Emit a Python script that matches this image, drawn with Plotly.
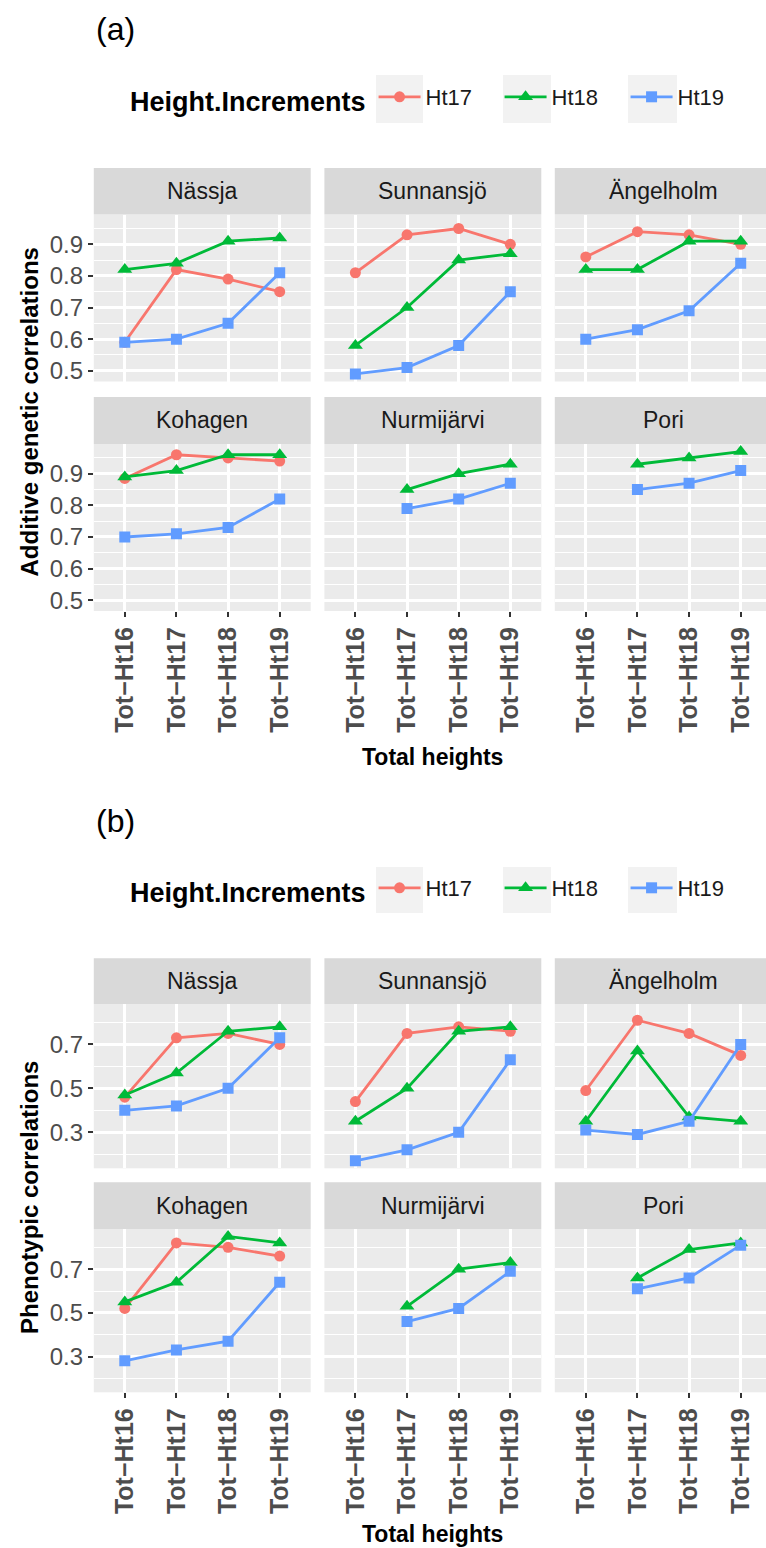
import numpy as np
import plotly.graph_objects as go

# ---------------- data ----------------
categories = ["Tot−Ht16", "Tot−Ht17", "Tot−Ht18", "Tot−Ht19"]
sites = ["Nässja", "Sunnansjö", "Ängelholm", "Kohagen", "Nurmijärvi", "Pori"]
series = ["Ht17", "Ht18", "Ht19"]

# (a) additive genetic correlations
gen_ht17 = {
    "Nässja": [0.59, 0.82, 0.79, 0.75],
    "Sunnansjö": [0.81, 0.93, 0.95, 0.90],
    "Ängelholm": [0.86, 0.94, 0.93, 0.90],
    "Kohagen": [0.885, 0.96, 0.95, 0.94],
}
gen_ht18 = {
    "Nässja": [0.82, 0.84, 0.91, 0.92],
    "Sunnansjö": [0.58, 0.70, 0.85, 0.87],
    "Ängelholm": [0.82, 0.82, 0.91, 0.91],
    "Kohagen": [0.89, 0.91, 0.96, 0.96],
    "Nurmijärvi": [None, 0.85, 0.90, 0.93],
    "Pori": [None, 0.93, 0.95, 0.97],
}
gen_ht19 = {
    "Nässja": [0.59, 0.60, 0.65, 0.81],
    "Sunnansjö": [0.49, 0.51, 0.58, 0.75],
    "Ängelholm": [0.60, 0.63, 0.69, 0.84],
    "Kohagen": [0.70, 0.71, 0.73, 0.82],
    "Nurmijärvi": [None, 0.79, 0.82, 0.87],
    "Pori": [None, 0.85, 0.87, 0.91],
}

# (b) phenotypic correlations
phen_ht17 = {
    "Nässja": [0.46, 0.73, 0.75, 0.70],
    "Sunnansjö": [0.44, 0.75, 0.78, 0.76],
    "Ängelholm": [0.49, 0.81, 0.75, 0.65],
    "Kohagen": [0.52, 0.82, 0.80, 0.76],
}
phen_ht18 = {
    "Nässja": [0.47, 0.57, 0.76, 0.78],
    "Sunnansjö": [0.35, 0.50, 0.76, 0.78],
    "Ängelholm": [0.35, 0.67, 0.37, 0.35],
    "Kohagen": [0.55, 0.64, 0.85, 0.82],
    "Nurmijärvi": [None, 0.53, 0.70, 0.73],
    "Pori": [None, 0.66, 0.79, 0.82],
}
phen_ht19 = {
    "Nässja": [0.40, 0.42, 0.50, 0.73],
    "Sunnansjö": [0.17, 0.22, 0.30, 0.63],
    "Ängelholm": [0.31, 0.29, 0.35, 0.70],
    "Kohagen": [0.28, 0.33, 0.37, 0.64],
    "Nurmijärvi": [None, 0.46, 0.52, 0.69],
    "Pori": [None, 0.61, 0.66, 0.81],
}

gen_yticks = [0.5, 0.6, 0.7, 0.8, 0.9]
phen_yticks = [0.3, 0.5, 0.7]

panel_labels = ["(a)", "(b)"]
y_titles = ["Additive genetic correlations", "Phenotypic correlations"]
x_title = "Total heights"
legend_title = "Height.Increments"

groups = [
    {"Ht17": gen_ht17, "Ht18": gen_ht18, "Ht19": gen_ht19},
    {"Ht17": phen_ht17, "Ht18": phen_ht18, "Ht19": phen_ht19},
]
group_yticks = [gen_yticks, phen_yticks]

# ---------------- style / layout ----------------
W, H = 766, 1548
FONT = "Liberation Sans, Arial, sans-serif"
colors = {"Ht17": "#F8766D", "Ht18": "#00BA38", "Ht19": "#619CFF"}
symbols = {"Ht17": "circle", "Ht18": "triangle-up", "Ht19": "square"}
msizes = {"Ht17": 11, "Ht18": 13, "Ht19": 11}


def fx(px):
    return px / W


def fy(py):
    return 1 - py / H


COL_PX = [(93.8, 310.7), (324.4, 541.3), (554.8, 771.7)]
# per group: rows of (strip_top, panel_top, panel_bottom)
ROW_PX = [
    [(168.0, 214.6, 381.5), (397.0, 444.0, 611.0)],
    [(958.3, 1004.0, 1168.3), (1182.3, 1229.0, 1392.3)],
]
LABEL_Y = [29, 821]
LEGEND_Y = [99, 890]
KEY_BOX_Y = [(75, 123), (867, 913)]
KEY_BOX_X = [(376, 423), (503, 551), (628, 677)]
YTITLE_Y = [412.5, 1198]
XTITLE_Y = [757, 1534]

fig = go.Figure()
layout = dict(
    width=W, height=H,
    margin=dict(l=0, r=0, t=0, b=0),
    paper_bgcolor="white",
    plot_bgcolor="#EBEBEB",
    template="none",
    font=dict(family=FONT, color="#1A1A1A"),
    shapes=[], annotations=[],
)

for g, data in enumerate(groups):
    allv = [v for s in series for site in data[s] for v in data[s][site] if v is not None]
    vmin, vmax = min(allv), max(allv)
    pad = 0.05 * (vmax - vmin)
    yrange = [vmin - pad, vmax + pad]
    ticks = group_yticks[g]
    step = ticks[1] - ticks[0]
    minor_vals = [round(ticks[0] - step / 2 + i * step, 4) for i in range(len(ticks) + 1)]
    minor_vals = [m for m in minor_vals if yrange[0] <= m <= yrange[1]]

    for r in range(2):
        strip_top, ptop, pbot = ROW_PX[g][r]
        for c in range(3):
            k = g * 6 + r * 3 + c + 1
            site = sites[r * 3 + c]
            xl, xr = COL_PX[c]
            xr_vis = min(xr, W)
            xrange = [-0.6, -0.6 + 4.2 * (xr_vis - xl) / (xr - xl)]
            xa = "xaxis" if k == 1 else f"xaxis{k}"
            ya = "yaxis" if k == 1 else f"yaxis{k}"
            bottom = r == 1
            left = c == 0
            layout[xa] = dict(
                domain=[fx(xl), fx(xr_vis)], anchor=f"y{k}" if k > 1 else "y",
                type="category", categoryorder="array", categoryarray=categories,
                range=xrange, showgrid=True, gridcolor="white", gridwidth=2.8,
                zeroline=False, showline=False, automargin=False,
                showticklabels=bottom, ticks="outside" if bottom else "",
                ticklen=5, tickwidth=2.4, tickcolor="#333333",
                tickangle=-90,
                tickfont=dict(family=FONT, size=25, color="#4D4D4D", weight="bold"),
                fixedrange=True,
            )
            layout[ya] = dict(
                domain=[fy(pbot), fy(ptop)], anchor=f"x{k}" if k > 1 else "x",
                range=yrange, tickmode="array", tickvals=ticks,
                tickformat=".1f",
                showgrid=True, gridcolor="white", gridwidth=2.8,
                minor=dict(tickmode="array", tickvals=minor_vals, showgrid=True,
                           gridcolor="white", gridwidth=1.4, ticks=""),
                zeroline=False, showline=False, automargin=False,
                showticklabels=left, ticks="outside" if left else "",
                ticklen=5, tickwidth=2.4, tickcolor="#333333",
                tickfont=dict(family=FONT, size=24, color="#4D4D4D"),
                fixedrange=True,
            )
            # strip
            layout["shapes"].append(dict(
                type="rect", xref="paper", yref="paper",
                x0=fx(xl), x1=fx(xr_vis), y0=fy(ptop), y1=fy(strip_top),
                fillcolor="#D9D9D9", line=dict(width=0), layer="below"))
            layout["annotations"].append(dict(
                text=site, xref="paper", yref="paper",
                x=fx((xl + xr) / 2), y=fy((strip_top + ptop) / 2),
                xanchor="center", yanchor="middle", showarrow=False,
                font=dict(family=FONT, size=23, color="#1A1A1A")))

            for s in series:
                if site not in data[s]:
                    continue
                fig.add_trace(go.Scatter(
                    x=categories, y=data[s][site], name=s,
                    mode="lines+markers",
                    line=dict(color=colors[s], width=2.8),
                    marker=dict(color=colors[s], symbol=symbols[s], size=msizes[s]),
                    xaxis=f"x{k}" if k > 1 else "x", yaxis=f"y{k}" if k > 1 else "y",
                    legend="legend" if g == 0 else "legend2",
                    showlegend=(r == 0 and c == 0),
                    hoverinfo="skip",
                ))

    # panel label
    layout["annotations"].append(dict(
        text=panel_labels[g], xref="paper", yref="paper",
        x=fx(94), y=fy(LABEL_Y[g]), xanchor="left", yanchor="middle",
        showarrow=False, font=dict(family=FONT, size=32, color="#000000")))
    # axis titles
    layout["annotations"].append(dict(
        text=y_titles[g], xref="paper", yref="paper",
        x=fx(29), y=fy(YTITLE_Y[g]), xanchor="center", yanchor="middle",
        textangle=-90, showarrow=False,
        font=dict(family=FONT, size=24, color="#000000", weight="bold")))
    layout["annotations"].append(dict(
        text=x_title, xref="paper", yref="paper",
        x=fx((COL_PX[0][0] + COL_PX[2][1]) / 2), y=fy(XTITLE_Y[g]),
        xanchor="center", yanchor="middle", showarrow=False,
        font=dict(family=FONT, size=23, color="#000000", weight="bold")))
    # legend key backgrounds
    for (bx0, bx1) in KEY_BOX_X:
        layout["shapes"].append(dict(
            type="rect", xref="paper", yref="paper",
            x0=fx(bx0), x1=fx(bx1), y0=fy(KEY_BOX_Y[g][1]), y1=fy(KEY_BOX_Y[g][0]),
            fillcolor="#F2F2F2", line=dict(width=0), layer="below"))
    leg = dict(
        orientation="h", x=fx(128), xanchor="left",
        y=fy(LEGEND_Y[g]), yanchor="middle",
        bgcolor="rgba(0,0,0,0)", borderwidth=0,
        itemwidth=42, entrywidth=69, entrywidthmode="pixels",
        itemclick=False, itemdoubleclick=False,
        title=dict(text=legend_title, side="left",
                   font=dict(family=FONT, size=27, color="#000000", weight="bold")),
        font=dict(family=FONT, size=22, color="#1A1A1A"),
    )
    layout["legend" if g == 0 else "legend2"] = leg

fig.update_layout(**layout)
fig.write_html("out.html")
